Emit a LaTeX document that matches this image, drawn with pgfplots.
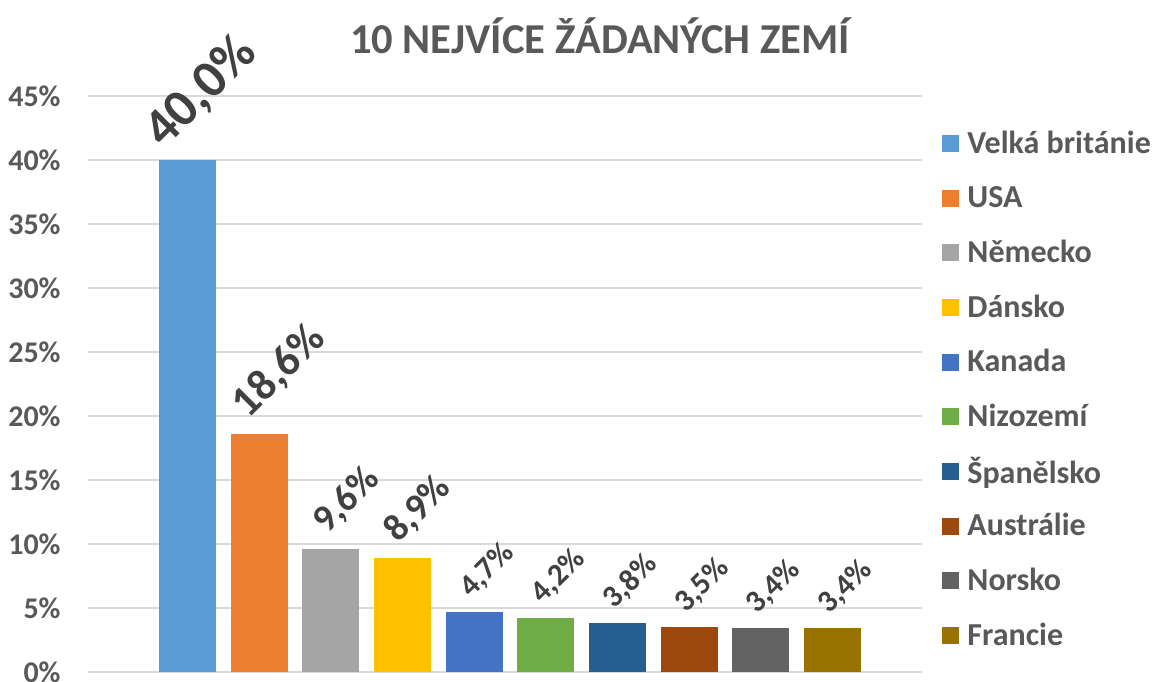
\documentclass[border=0pt]{standalone}
\usepackage{fontspec}
\setmainfont{Carlito}
\usepackage{pgfplots}
\pgfplotsset{compat=1.18}

\definecolor{txt}{HTML}{595959}
\definecolor{lbl}{HTML}{404040}
\definecolor{gridc}{HTML}{D9D9D9}
\definecolor{c1}{HTML}{5B9BD5}
\definecolor{c2}{HTML}{ED7D31}
\definecolor{c3}{HTML}{A5A5A5}
\definecolor{c4}{HTML}{FFC000}
\definecolor{c5}{HTML}{4472C4}
\definecolor{c6}{HTML}{70AD47}
\definecolor{c7}{HTML}{255E91}
\definecolor{c8}{HTML}{9E480E}
\definecolor{c9}{HTML}{636363}
\definecolor{c10}{HTML}{997300}

% bar value label with its own size
\pgfplotsset{
  val/.style={
    nodes near coords={\pgfmathprintnumber[fixed,fixed zerofill,precision=1,use comma]{\pgfplotspointmeta}\%},
    every node near coord/.append style={font=\bfseries\fontsize{#1}{#1}\selectfont, text=lbl,
      yshift=5pt, rotate=45, anchor=south west, inner sep=0pt}
  }
}

\begin{document}
\begin{tikzpicture}
\useasboundingbox (0,0) rectangle (578pt,340.5pt);
\begin{axis}[
    at={(44pt,4.5pt)}, anchor=south west,
    scale only axis, width=417pt, height=288pt,
    ybar,
    every axis plot/.append style={bar shift=0pt, bar width=28.5pt, draw=none,
      legend image code/.code={\fill[##1,/tikz/.cd] (0pt,-4.25pt) rectangle (8.5pt,4.25pt);}},
    xmin=-1.388, xmax=10.25, ymin=0, ymax=45,
    axis x line=none,
    axis y line*=left, y axis line style={draw=none},
    ytick={0,5,...,45}, ytick style={draw=none},
    yticklabel={\pgfmathprintnumber{\tick}\%},
    /pgf/number format/assume math mode=true,
    yticklabel style={font=\bfseries\fontsize{15}{15}\selectfont, text=txt, inner sep=0pt, anchor=east, xshift=-13.5pt},
    ymajorgrids, grid style={color=gridc, line width=0.75pt},
    title={10 NEJVÍCE ŽÁDANÝCH ZEMÍ},
    title style={at={(0.614,1.083)}, anchor=center, font=\bfseries\fontsize{21.3}{21.3}\selectfont, text=txt},
    legend style={at={(1.024,0.966)}, anchor=north west, draw=none, fill=none, inner sep=0pt,
      font=\bfseries\fontsize{16}{16}\selectfont, text=txt,
      nodes={minimum height=27.35pt, inner sep=0pt, inner xsep=4pt}},
    legend cell align=left,
    clip=false,
]
\addplot[fill=c1, every node near coord/.append style={xshift=-9pt, yshift=-2.5pt}, val=26.5] coordinates {(0,40.0)};
\addlegendentry{Velká británie}
\addplot[fill=c2, every node near coord/.append style={xshift=-3pt}, val=22] coordinates {(1,18.6)};
\addlegendentry{USA}
\addplot[fill=c3, val=19] coordinates {(2,9.6)};
\addlegendentry{Německo}
\addplot[fill=c4, val=19] coordinates {(3,8.9)};
\addlegendentry{Dánsko}
\addplot[fill=c5, val=15.5] coordinates {(4,4.7)};
\addlegendentry{Kanada}
\addplot[fill=c6, val=15.5] coordinates {(5,4.2)};
\addlegendentry{Nizozemí}
\addplot[fill=c7, val=15.5] coordinates {(6,3.8)};
\addlegendentry{Španělsko}
\addplot[fill=c8, val=15.5] coordinates {(7,3.5)};
\addlegendentry{Austrálie}
\addplot[fill=c9, val=15.5] coordinates {(8,3.4)};
\addlegendentry{Norsko}
\addplot[fill=c10, val=15.5] coordinates {(9,3.4)};
\addlegendentry{Francie}
\end{axis}
\end{tikzpicture}
\end{document}
